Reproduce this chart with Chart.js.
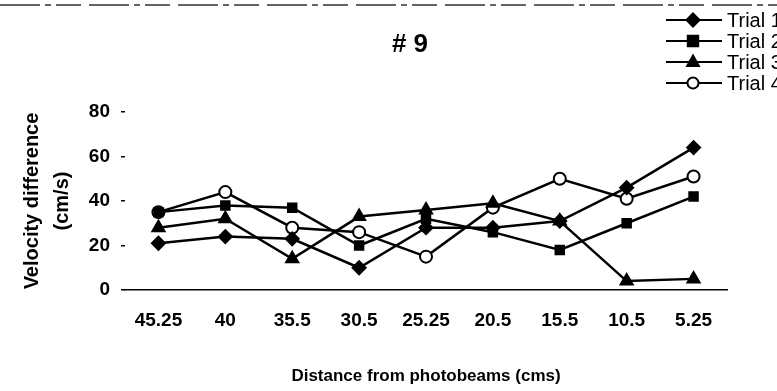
<!DOCTYPE html>
<html>
<head>
<meta charset="utf-8">
<script src="https://cdn.jsdelivr.net/npm/chart.js@4.4.1/dist/chart.umd.min.js"></script>
<style>
  html, body { margin: 0; padding: 0; background: #fff; }
  #wrap { width: 777px; height: 391px; }
</style>
</head>
<body>
<div id="wrap"><canvas id="velocityChart"></canvas></div>
<script>
// Distance categories (x axis) and velocity difference per trial (cm/s)
const distances = ['45.25', '40', '35.5', '30.5', '25.25', '20.5', '15.5', '10.5', '5.25'];
const trial1 = [21, 24, 23, 10, 28, 28, 31, 46, 64];
const trial2 = [35, 38, 37, 20, 32, 26, 18, 30, 42];
const trial3 = [28, 32, 14, 33, 36, 39, 31, 4, 5];
const trial4 = [35, 44, 28, 26, 15, 37, 50, 41, 51];
const trialLabels = ['Trial 1', 'Trial 2', 'Trial 3', 'Trial 4'];
const yTicks = [0, 20, 40, 60, 80];
const chartTitle = '# 9';

const FONT = "'Liberation Sans', Arial, Helvetica, sans-serif";

function marker(ctx, style, x, y, r) {
    ctx.beginPath();
    if (style === 'rectRot') {
        ctx.moveTo(x, y - r); ctx.lineTo(x + r, y); ctx.lineTo(x, y + r); ctx.lineTo(x - r, y);
        ctx.closePath();
    } else if (style === 'rect') {
        ctx.rect(x - r * 0.8, y - r * 0.8, r * 1.6, r * 1.6);
    } else if (style === 'triangle') {
        ctx.moveTo(x, y - r); ctx.lineTo(x + r * 0.9, y + r * 0.6); ctx.lineTo(x - r * 0.9, y + r * 0.6);
        ctx.closePath();
    } else {
        ctx.arc(x, y, r * 0.85, 0, Math.PI * 2);
    }
    ctx.fill();
    ctx.stroke();
}

// title, scanned-looking top rule and the clipped legend at top right
const scanDecor = {
    id: 'scanDecor',
    afterDraw(chart) {
        const ctx = chart.ctx;
        ctx.save();
        ctx.strokeStyle = '#333';
        ctx.lineWidth = 1.5;
        ctx.setLineDash([40, 5, 6, 5, 25, 8]);
        ctx.beginPath(); ctx.moveTo(0, 5); ctx.lineTo(777, 5); ctx.stroke();
        ctx.setLineDash([]);

        ctx.fillStyle = '#000';
        ctx.font = 'bold 26px ' + FONT;
        ctx.textAlign = 'center';
        ctx.textBaseline = 'middle';
        ctx.fillText(chartTitle, 410, 45);

        ctx.font = '20px ' + FONT;
        ctx.textAlign = 'left';
        chart.data.datasets.forEach((ds, i) => {
            const y = 20 + i * 21;
            ctx.strokeStyle = '#000';
            ctx.lineWidth = 2;
            ctx.beginPath(); ctx.moveTo(666, y); ctx.lineTo(722, y); ctx.stroke();
            ctx.fillStyle = ds.pointBackgroundColor;
            marker(ctx, ds.pointStyle, 693, y, 6.5);
            ctx.fillStyle = '#000';
            ctx.fillText(ds.label, 727, y + 1);
        });
        ctx.restore();
    }
};

const series = [trial1, trial2, trial3, trial4];
const styles = ['rectRot', 'rect', 'triangle', 'circle'];
const radii = [6.5, 6, 7, 6];

new Chart(document.getElementById('velocityChart'), {
    type: 'line',
    data: {
        labels: distances,
        datasets: series.map((vals, i) => ({
            label: trialLabels[i],
            data: vals,
            borderColor: '#000',
            borderWidth: 2.5,
            pointStyle: styles[i],
            pointRadius: radii[i],
            pointBorderWidth: 2,
            pointBorderColor: '#000',
            pointBackgroundColor: styles[i] === 'circle' ? '#fff' : '#000',
            tension: 0,
            clip: false
        }))
    },
    plugins: [scanDecor],
    options: {
        responsive: true,
        maintainAspectRatio: false,
        animation: false,
        layout: { padding: { top: 112, right: 50, bottom: 0, left: 0 } },
        plugins: {
            legend: { display: false },
            title: { display: false },
            tooltip: { enabled: false }
        },
        scales: {
            x: {
                offset: true,
                afterFit(scale) { scale.height = 101; },
                grid: { drawOnChartArea: false, drawTicks: false },
                border: { display: true, color: '#000', width: 1.5 },
                ticks: {
                    color: '#000',
                    padding: 19,
                    font: { family: FONT, size: 19, weight: 'bold' }
                },
                title: {
                    display: true,
                    text: 'Distance from photobeams (cms)',
                    color: '#000',
                    padding: { top: 0, bottom: 4 },
                    font: { family: FONT, size: 17, weight: 'bold' }
                }
            },
            y: {
                min: 0,
                max: 80,
                afterFit(scale) { scale.width = 125; },
                afterBuildTicks(scale) { scale.ticks = yTicks.map(v => ({ value: v })); },
                grid: { drawOnChartArea: false, drawTicks: true, tickLength: 4, color: '#000', lineWidth: 1.5 },
                border: { display: false },
                ticks: {
                    color: '#000',
                    padding: 11,
                    font: { family: FONT, size: 19, weight: 'bold' }
                },
                title: {
                    display: true,
                    text: ['Velocity difference', '(cm/s)'],
                    color: '#000',
                    padding: { top: 17, bottom: 0 },
                    font: { family: FONT, size: 20, weight: 'bold', lineHeight: 1.5 }
                }
            }
        }
    }
});
</script>
</body>
</html>
